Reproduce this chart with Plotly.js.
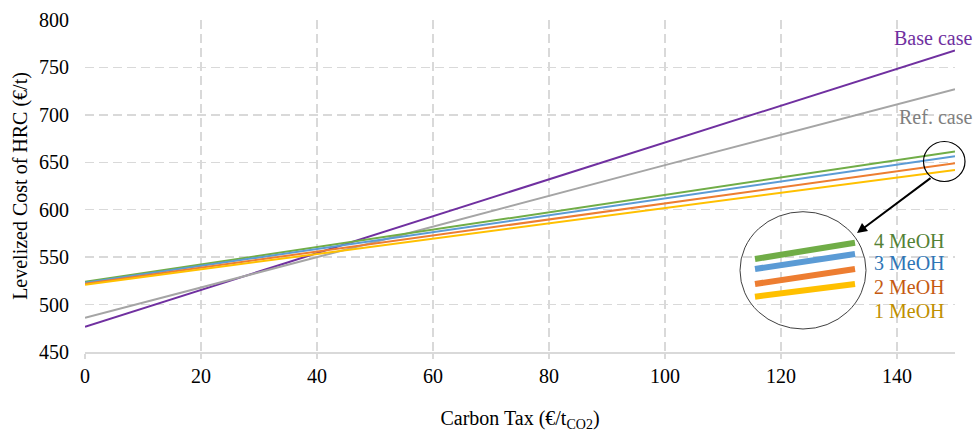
<!DOCTYPE html>
<html>
<head>
<meta charset="utf-8">
<script src="https://cdn.plot.ly/plotly-3.0.1.min.js"></script>
<style>html,body{margin:0;padding:0;background:#fff;}#chart{width:974px;height:432px;}</style>
</head>
<body>
<div id="chart"></div>
<script>
const carbonTax = [0, 50, 100, 150];
const baseCase = [476.5, 573.5, 671, 768];
const refCase  = [486, 566, 647, 727];
const meoh4 = [524, 570, 615.5, 661.5];
const meoh3 = [523, 567.5, 612, 656.5];
const meoh2 = [522, 564.5, 607, 649];
const meoh1 = [521, 561.5, 602, 642];
const seriesNames = ['Base case', 'Ref. case', '4 MeOH', '3 MeOH', '2 MeOH', '1 MeOH'];
const xTicks = [0, 20, 40, 60, 80, 100, 120, 140];
const yTicks = [450, 500, 550, 600, 650, 700, 750, 800];

const lineColors = ['#7030A0', '#A5A5A5', '#70AD47', '#5B9BD5', '#ED7D31', '#FFC000'];
const labelColors = ['#7030A0', '#7F7F7F', '#548235', '#2E75B6', '#C55A11', '#BF9000'];
const allSeries = [baseCase, refCase, meoh4, meoh3, meoh2, meoh1];

const font = 'Liberation Serif, Times New Roman, serif';
const traces = allSeries.map((ys, i) => ({
  x: carbonTax, y: ys, type: 'scatter', mode: 'lines', name: seriesNames[i],
  line: {color: lineColors[i], width: 2}, hoverinfo: 'skip'
}));

// paper conversion helpers for decorations (plot area: 85..955 x, 20..352 y)
const px = v => (v - 85) / 870;
const py = v => (352 - v) / 332;

const shapes = [
  {type: 'circle', xref: 'paper', yref: 'paper', x0: px(923.5), x1: px(965), y0: py(181.5), y1: py(141.5),
   line: {color: '#000000', width: 1.2}},
  {type: 'circle', xref: 'paper', yref: 'paper', x0: px(740), x1: px(866), y0: py(329), y1: py(211.7),
   line: {color: '#404040', width: 1}},
];
const insetY = [[259, 242.7], [269, 254], [284, 269], [296.7, 284]];
insetY.forEach((yy, i) => {
  shapes.push({type: 'line', xref: 'paper', yref: 'paper', x0: px(755), x1: px(855), y0: py(yy[0]), y1: py(yy[1]),
    line: {color: lineColors[i + 2], width: 6}});
});

const annotations = [
  {xref: 'paper', yref: 'paper', x: px(974), y: py(38), xanchor: 'right', yanchor: 'middle', showarrow: false,
   text: seriesNames[0], font: {family: font, size: 20, color: labelColors[0]}},
  {xref: 'paper', yref: 'paper', x: px(974), y: py(117), xanchor: 'right', yanchor: 'middle', showarrow: false,
   text: seriesNames[1], font: {family: font, size: 20, color: labelColors[1]}},
  {xref: 'paper', yref: 'paper', x: px(857), y: py(233), ax: 75, ay: -56, axref: 'pixel', ayref: 'pixel',
   showarrow: true, arrowhead: 2, arrowsize: 1, arrowwidth: 2, arrowcolor: '#000000', text: ''},
];
[241, 263, 287, 311].forEach((yc, i) => {
  annotations.push({xref: 'paper', yref: 'paper', x: px(872), y: py(yc), xanchor: 'left', yanchor: 'middle',
    showarrow: false, text: seriesNames[i + 2], font: {family: font, size: 20, color: labelColors[i + 2]}});
});

const layout = {
  width: 974, height: 432,
  margin: {l: 85, r: 19, t: 20, b: 80},
  paper_bgcolor: '#ffffff', plot_bgcolor: '#ffffff',
  showlegend: false,
  font: {family: font, size: 20, color: '#000000'},
  xaxis: {
    range: [0, 150], tickvals: xTicks, ticktext: xTicks.map(String),
    showgrid: true, gridcolor: '#D9D9D9', griddash: '9px,5px', gridwidth: 1.5,
    zeroline: false, showline: true, linecolor: '#D9D9D9', linewidth: 2,
    ticks: 'outside', ticklen: 5, tickcolor: '#D9D9D9', tickwidth: 1.5,
    tickfont: {family: font, size: 20, color: '#000000'},
    title: {text: 'Carbon Tax (€/t<sub>CO2</sub>)', font: {family: font, size: 20, color: '#000000'}, standoff: 25}
  },
  yaxis: {
    range: [450, 800], tickvals: yTicks, ticktext: yTicks.map(String),
    showgrid: true, gridcolor: '#D9D9D9', griddash: '9px,5px', gridwidth: 1.5,
    zeroline: false, showline: false, ticks: '', ticklen: 0, ticklabelstandoff: 15,
    tickfont: {family: font, size: 20, color: '#000000'},
    title: {text: 'Levelized Cost of HRC (€/t)', font: {family: font, size: 20, color: '#000000'}, standoff: 6}
  },
  shapes: shapes,
  annotations: annotations
};

Plotly.newPlot('chart', traces, layout, {staticPlot: true, displayModeBar: false});
</script>
</body>
</html>
